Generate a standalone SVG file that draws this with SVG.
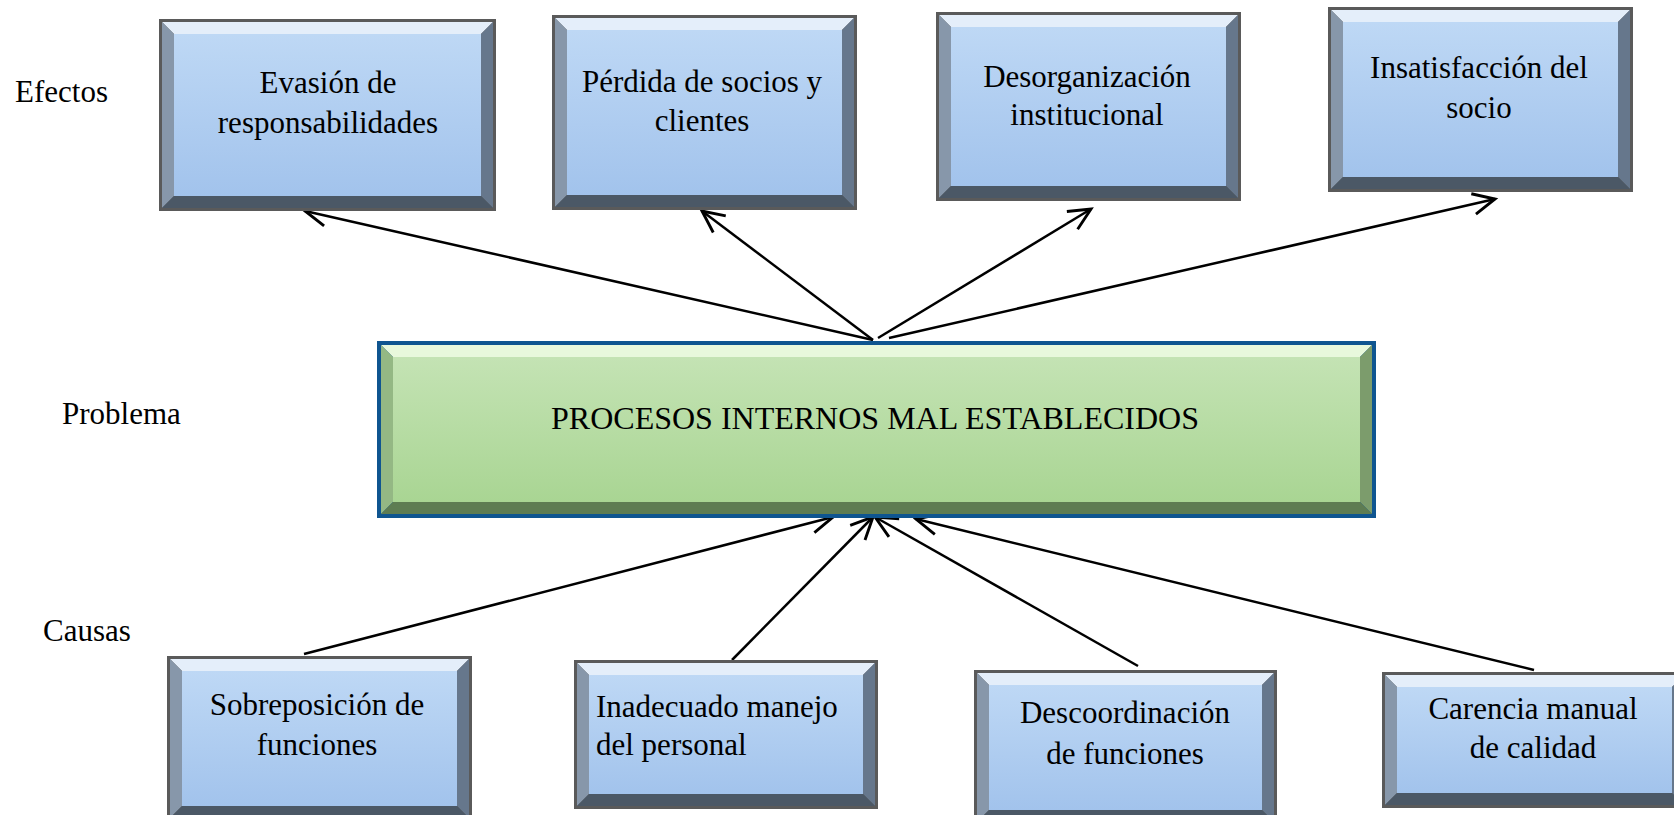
<svg xmlns="http://www.w3.org/2000/svg" width="1674" height="815" viewBox="0 0 1674 815">
<style>
.lbl{font-family:"Liberation Serif","Times New Roman",serif;font-size:31px;fill:#000}
.t{font-family:"Liberation Serif","Times New Roman",serif;font-size:31px;fill:#000;text-anchor:middle}
.tl{font-family:"Liberation Serif","Times New Roman",serif;font-size:31px;fill:#000}
.conn{stroke:#000;stroke-width:2.5;fill:none;marker-end:url(#ah)}
.bo{fill:#5a5a5a}
.bt{fill:#e4eefa}
.bl{fill:#8797aa}
.br{fill:#66778c}
.bb{fill:#4b5866}
.bf{fill:url(#gb)}
.go{fill:#0f5590}
.gt{fill:#e8f8dc}
.gl{fill:#94b884}
.gr{fill:#7c9c6c}
.gbt{fill:#5e7c52}
.gf{fill:url(#gg)}
</style>
<defs>
<linearGradient id="gb" x1="0" y1="0" x2="0" y2="1"><stop offset="0" stop-color="#bed8f5"/><stop offset="1" stop-color="#a2c3ec"/></linearGradient>
<linearGradient id="gg" x1="0" y1="0" x2="0" y2="1"><stop offset="0" stop-color="#c4e3b4"/><stop offset="1" stop-color="#a9d593"/></linearGradient>
<marker id="ah" markerUnits="userSpaceOnUse" markerWidth="30" markerHeight="30" viewBox="-22 -12 26 24" refX="0" refY="0" orient="auto">
<path d="M-19,-9 L0,0 L-19,9" fill="none" stroke="#000" stroke-width="2.5"/>
</marker>
</defs>
<rect width="1674" height="815" fill="#fff"/>
<text class="lbl" x="15" y="102">Efectos</text>
<text class="lbl" x="62" y="424">Problema</text>
<text class="lbl" x="43" y="641">Causas</text>

<g id="connectors">
<line class="conn" x1="873" y1="340" x2="305" y2="211"/>
<line class="conn" x1="873" y1="340" x2="702" y2="211"/>
<line class="conn" x1="878" y1="338" x2="1091" y2="209"/>
<line class="conn" x1="889" y1="338" x2="1495" y2="199"/>
<line class="conn" x1="304" y1="654" x2="833" y2="517"/>
<line class="conn" x1="732" y1="660" x2="873" y2="517"/>
<line class="conn" x1="1138" y1="666" x2="875" y2="517"/>
<line class="conn" x1="1534" y1="670" x2="916" y2="519"/>
</g>

<g id="efecto1" transform="translate(159,19)">
<rect class="bo" width="337" height="192"/>
<polygon class="bt" points="3,3 334,3 322,15 15,15"/>
<polygon class="bl" points="3,3 15,15 15,177 3,189"/>
<polygon class="br" points="334,3 322,15 322,177 334,189"/>
<polygon class="bb" points="3,189 15,177 322,177 334,189"/>
<rect class="bf" x="15" y="15" width="307" height="162"/>
<text class="t" x="169" y="74">Evasión de</text>
<text class="t" x="169" y="114">responsabilidades</text>
</g>

<g id="efecto2" transform="translate(552,15)">
<rect class="bo" width="305" height="195"/>
<polygon class="bt" points="3,3 302,3 290,15 15,15"/>
<polygon class="bl" points="3,3 15,15 15,180 3,192"/>
<polygon class="br" points="302,3 290,15 290,180 302,192"/>
<polygon class="bb" points="3,192 15,180 290,180 302,192"/>
<rect class="bf" x="15" y="15" width="275" height="165"/>
<text class="t" x="150" y="77">Pérdida de socios y</text>
<text class="t" x="150" y="116">clientes</text>
</g>

<g id="efecto3" transform="translate(936,12)">
<rect class="bo" width="305" height="189"/>
<polygon class="bt" points="3,3 302,3 290,15 15,15"/>
<polygon class="bl" points="3,3 15,15 15,174 3,186"/>
<polygon class="br" points="302,3 290,15 290,174 302,186"/>
<polygon class="bb" points="3,186 15,174 290,174 302,186"/>
<rect class="bf" x="15" y="15" width="275" height="159"/>
<text class="t" x="151" y="75">Desorganización</text>
<text class="t" x="151" y="113">institucional</text>
</g>

<g id="efecto4" transform="translate(1328,7)">
<rect class="bo" width="305" height="185"/>
<polygon class="bt" points="3,3 302,3 290,15 15,15"/>
<polygon class="bl" points="3,3 15,15 15,170 3,182"/>
<polygon class="br" points="302,3 290,15 290,170 302,182"/>
<polygon class="bb" points="3,182 15,170 290,170 302,182"/>
<rect class="bf" x="15" y="15" width="275" height="155"/>
<text class="t" x="151" y="71">Insatisfacción del</text>
<text class="t" x="151" y="111">socio</text>
</g>

<g id="problema" transform="translate(377,341)">
<rect class="go" width="999" height="177"/>
<polygon class="gt" points="4,4 995,4 983,16 16,16"/>
<polygon class="gl" points="4,4 16,16 16,161 4,173"/>
<polygon class="gr" points="995,4 983,16 983,161 995,173"/>
<polygon class="gbt" points="4,173 16,161 983,161 995,173"/>
<rect class="gf" x="16" y="16" width="967" height="145"/>
<text class="t" x="498" y="88" style="font-size:32px">PROCESOS INTERNOS MAL ESTABLECIDOS</text>
</g>

<g id="causa1" transform="translate(167,656)">
<rect class="bo" width="305" height="165"/>
<polygon class="bt" points="3,3 302,3 290,15 15,15"/>
<polygon class="bl" points="3,3 15,15 15,150 3,162"/>
<polygon class="br" points="302,3 290,15 290,150 302,162"/>
<polygon class="bb" points="3,162 15,150 290,150 302,162"/>
<rect class="bf" x="15" y="15" width="275" height="135"/>
<text class="t" x="150" y="59">Sobreposición de</text>
<text class="t" x="150" y="99">funciones</text>
</g>

<g id="causa2" transform="translate(574,660)">
<rect class="bo" width="304" height="149"/>
<polygon class="bt" points="3,3 301,3 289,15 15,15"/>
<polygon class="bl" points="3,3 15,15 15,134 3,146"/>
<polygon class="br" points="301,3 289,15 289,134 301,146"/>
<polygon class="bb" points="3,146 15,134 289,134 301,146"/>
<rect class="bf" x="15" y="15" width="274" height="119"/>
<text class="tl" x="22" y="57">Inadecuado manejo</text>
<text class="tl" x="22" y="95">del personal</text>
</g>

<g id="causa3" transform="translate(974,670)">
<rect class="bo" width="303" height="155"/>
<polygon class="bt" points="3,3 300,3 288,15 15,15"/>
<polygon class="bl" points="3,3 15,15 15,140 3,152"/>
<polygon class="br" points="300,3 288,15 288,140 300,152"/>
<polygon class="bb" points="3,152 15,140 288,140 300,152"/>
<rect class="bf" x="15" y="15" width="273" height="125"/>
<text class="t" x="151" y="53">Descoordinación</text>
<text class="t" x="151" y="94">de funciones</text>
</g>

<g id="causa4" transform="translate(1382,672)">
<rect class="bo" width="305" height="136"/>
<polygon class="bt" points="3,3 302,3 290,15 15,15"/>
<polygon class="bl" points="3,3 15,15 15,121 3,133"/>
<polygon class="br" points="302,3 290,15 290,121 302,133"/>
<polygon class="bb" points="3,133 15,121 290,121 302,133"/>
<rect class="bf" x="15" y="15" width="275" height="106"/>
<text class="t" x="151" y="47">Carencia manual</text>
<text class="t" x="151" y="86">de calidad</text>
</g>
</svg>
